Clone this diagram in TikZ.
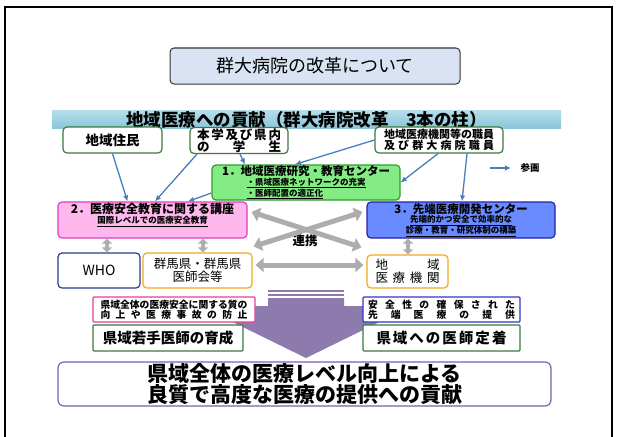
\documentclass[tikz,border=0pt]{standalone}
\usepackage{fontspec}
\setmainfont{Noto Sans CJK JP}
\usepackage{xcolor}
\usetikzlibrary{arrows.meta}

\definecolor{titleblue}{HTML}{DAE3F3}
\definecolor{bannertop}{HTML}{B4DEEB}
\definecolor{bannerbot}{HTML}{8CC6D9}
\definecolor{boxgreen}{HTML}{3C7A3C}
\definecolor{cfillgreen}{HTML}{84EC84}
\definecolor{cdrawgreen}{HTML}{2E9E2E}
\definecolor{cfillpink}{HTML}{FFB8EE}
\definecolor{cdrawpink}{HTML}{E040B8}
\definecolor{cfillblue}{HTML}{6A8AFF}
\definecolor{cdrawblue}{HTML}{2222AA}
\definecolor{whoblue}{HTML}{2B3990}
\definecolor{orgorange}{HTML}{F5A623}
\definecolor{qpink}{HTML}{E83E9C}
\definecolor{qblue}{HTML}{3535C8}
\definecolor{goalpurple}{HTML}{7F5FB0}
\definecolor{arrowpurple}{HTML}{8E7BAE}
\definecolor{linkgray}{HTML}{ADADAD}
\definecolor{linkblue}{HTML}{4A7EBB}

\newcommand{\fsz}[1]{\fontsize{#1}{#1}\selectfont}

\begin{document}
\begin{tikzpicture}[x=1pt,y=-1pt]
	\tikzstyle{box}=[draw, rounded corners=4pt, inner sep=0pt, align=center, line width=1.2pt, fill=white]
	\tikzstyle{feed}=[draw=linkblue, line width=1.3pt, -{Latex[length=6pt,width=5.5pt]}]
	\tikzstyle{link}=[draw=linkgray, line width=5pt, {Triangle[length=8pt,width=14pt]}-{Triangle[length=8pt,width=14pt]}]
	\tikzstyle{pair}=[draw=linkgray, line width=4pt, {Triangle[length=5pt,width=10pt]}-{Triangle[length=5pt,width=10pt]}]
	\useasboundingbox (0,0) rectangle (617,436);
	\fill[white] (0,0) rectangle (617,436);
	\draw[line width=1.5pt] (5,445) -- (5,7) -- (612,7) -- (612,445);
	% big arrow to the goal
	\fill[arrowpurple] (268,290) rectangle (344,292);
	\fill[arrowpurple] (268,294) rectangle (344,296);
	\fill[arrowpurple] (268,298) -- (344,298) -- (344,306) -- (412,306) -- (306,358) -- (200,306) -- (268,306) -- cycle;
	% title and banner
	\node[box, draw=black!80, line width=1pt, fill=titleblue, minimum width=290pt, minimum height=36pt, font=\fsz{18}] (title) at (315,66) {群大病院の改革について};
	\node[inner sep=0pt, minimum width=509pt, minimum height=18pt, text height=16.5pt, text depth=1.5pt, top color=bannertop, bottom color=bannerbot, font=\bfseries\fsz{17.5}] (banner) at (306.5,119) {地域医療への貢献（群大病院改革　3本の柱）};
	% participants
	\node[box, draw=boxgreen, minimum width=99pt, minimum height=26pt, font=\bfseries\fsz{13.5}] (resid) at (112.5,140) {地域住民};
	\node[box, draw=boxgreen, minimum width=98pt, minimum height=26pt, font=\bfseries\fsz{12.5}] (stud) at (239,140.5)
		{\makebox[84pt]{本\hfill 学\hfill 及\hfill び\hfill 県\hfill 内}\\\makebox[84pt]{の\hfill 学\hfill 生}};
	\node[box, draw=boxgreen, minimum width=128pt, minimum height=26pt, font=\bfseries\fsz{11}] (staff) at (439,140)
		{地域医療機関等の職員\\\makebox[110pt]{及\hfill び\hfill 群\hfill 大\hfill 病\hfill 院\hfill 職\hfill 員}};
	% three pillars
	\node[box, draw=cdrawgreen, fill=cfillgreen, minimum width=188pt, minimum height=35pt, font=\bfseries\fsz{9.5}] (c1) at (306,182.5)
		{{\fsz{11.5}1．地域医療研究・教育センター}\\
		 {\fsz{8.5}\makebox[119pt][l]{\underline{・県域医療ネットワークの充実}}}\\
		 {\fsz{8.5}\makebox[119pt][l]{\underline{・医師配置の適正化}}}};
	\node[box, draw=cdrawpink, fill=cfillpink, minimum width=189pt, minimum height=36pt, font=\bfseries\fsz{10.5}] (c2) at (152.5,220)
		{{\fsz{12}2．医療安全教育に関する講座}\\{\fsz{8.5}\underline{国際レベルでの医療安全教育}}\\[3pt]};
	\node[box, draw=cdrawblue, fill=cfillblue, minimum width=188pt, minimum height=36pt, font=\bfseries\fsz{9.5}] (c3) at (461,220)
		{{\fsz{11.5}3．先端医療開発センター}\\
		 {\fsz{8.5}\underline{先端的かつ安全で効率的な}}\\
		 {\fsz{8.5}\underline{診療・教育・研究体制の構築}}};
	% partners
	\node[box, draw=whoblue, minimum width=82pt, minimum height=35pt, font=\fsz{14}] (who) at (99,270.5) {WHO};
	\node[box, draw=orgorange, minimum width=109pt, minimum height=35pt, font=\fsz{12.5}] (pref) at (197.5,270.5) {群馬県・群馬県\\医師会等};
	\node[box, draw=orgorange, minimum width=81pt, minimum height=33pt, font=\fsz{12.5}] (inst) at (407.5,271.5)
		{\makebox[64pt]{地\hfill 域}\\\makebox[64pt]{医\hfill 療\hfill 機\hfill 関}};
	\node[font=\bfseries\fsz{12.5}] (renkei) at (305,241) {連携};
	% outcomes
	\node[box, rounded corners=1pt, draw=qpink, minimum width=162pt, minimum height=25pt, font=\bfseries\fsz{9.8}] (q1) at (174,309.5)
		{県域全体の医療安全に関する質の\\\makebox[147pt]{向\hfill 上\hfill や\hfill 医\hfill 療\hfill 事\hfill 故\hfill の\hfill 防\hfill 止}};
	\node[box, rounded corners=1pt, draw=qblue, minimum width=157pt, minimum height=25pt, font=\bfseries\fsz{9.8}] (q2) at (441.5,309.5)
		{\makebox[147pt]{安\hfill 全\hfill 性\hfill の\hfill 確\hfill 保\hfill さ\hfill れ\hfill た}\\\makebox[147pt]{先\hfill 端\hfill 医\hfill 療\hfill の\hfill 提\hfill 供}};
	\node[box, rounded corners=1pt, draw=boxgreen, minimum width=150pt, minimum height=26pt, font=\bfseries\fsz{14.5}] (g1) at (168,338) {県域若手医師の育成};
	\node[box, rounded corners=1pt, draw=boxgreen, minimum width=157pt, minimum height=26pt, font=\bfseries\fsz{14.5}] (g2) at (441.5,338)
		{\makebox[130pt]{県\hfill 域\hfill へ\hfill の\hfill 医\hfill 師\hfill 定\hfill 着}};
	\node[box, rounded corners=6pt, draw=goalpurple, minimum width=493pt, minimum height=44pt, font=\bfseries\fsz{21}] (goal) at (304.5,384)
		{県域全体の医療レベル向上による\\良質で高度な医療の提供への貢献};
	% legend
	\node[font=\bfseries\fsz{9.5}] (sankaku) at (530,168) {参画};
	\coordinate (lg) at (490,168);
	\draw[feed] (lg) -- ([xshift=-6pt]sankaku.west);
	% participation arrows
	\draw[feed] (resid.south) -- ([xshift=-25pt]c2.north);
	\draw[feed] ([xshift=-42pt]stud.south) -- ([xshift=2.5pt]c2.north);
	\draw[feed] ([xshift=1pt]stud.south) -- ([xshift=-61pt]c1.north);
	\draw[feed] ([yshift=-10.5pt]c1.west) -- ([xshift=35.5pt]c2.north);
	\draw[feed] (staff.west) -- ([xshift=-11pt]c1.north);
	\draw[feed] ([xshift=-1pt]staff.south) -- (c1.east);
	\draw[feed] ([xshift=28pt]staff.south) -- ([xshift=1pt]c3.north);
	% cooperation
	\draw[pair] ([xshift=-45.5pt]c2.south) -- ([xshift=8pt]who.north);
	\draw[pair] ([xshift=50.5pt]c2.south) -- ([xshift=5.5pt]pref.north);
	\draw[pair] ([xshift=-53pt]c3.south) -- ([xshift=0.5pt]inst.north);
	\draw[link] ([xshift=4pt,yshift=8pt]c2.east) -- ([xshift=-5pt,yshift=7pt]inst.north west);
	\draw[link] ([xshift=-4pt,yshift=8pt]c3.west) -- ([xshift=1pt,yshift=6pt]pref.north east);
	\draw[link] ([xshift=3pt,yshift=5.5pt]pref.east) -- ([xshift=-3pt,yshift=6.5pt]inst.west);
\end{tikzpicture}
\end{document}
